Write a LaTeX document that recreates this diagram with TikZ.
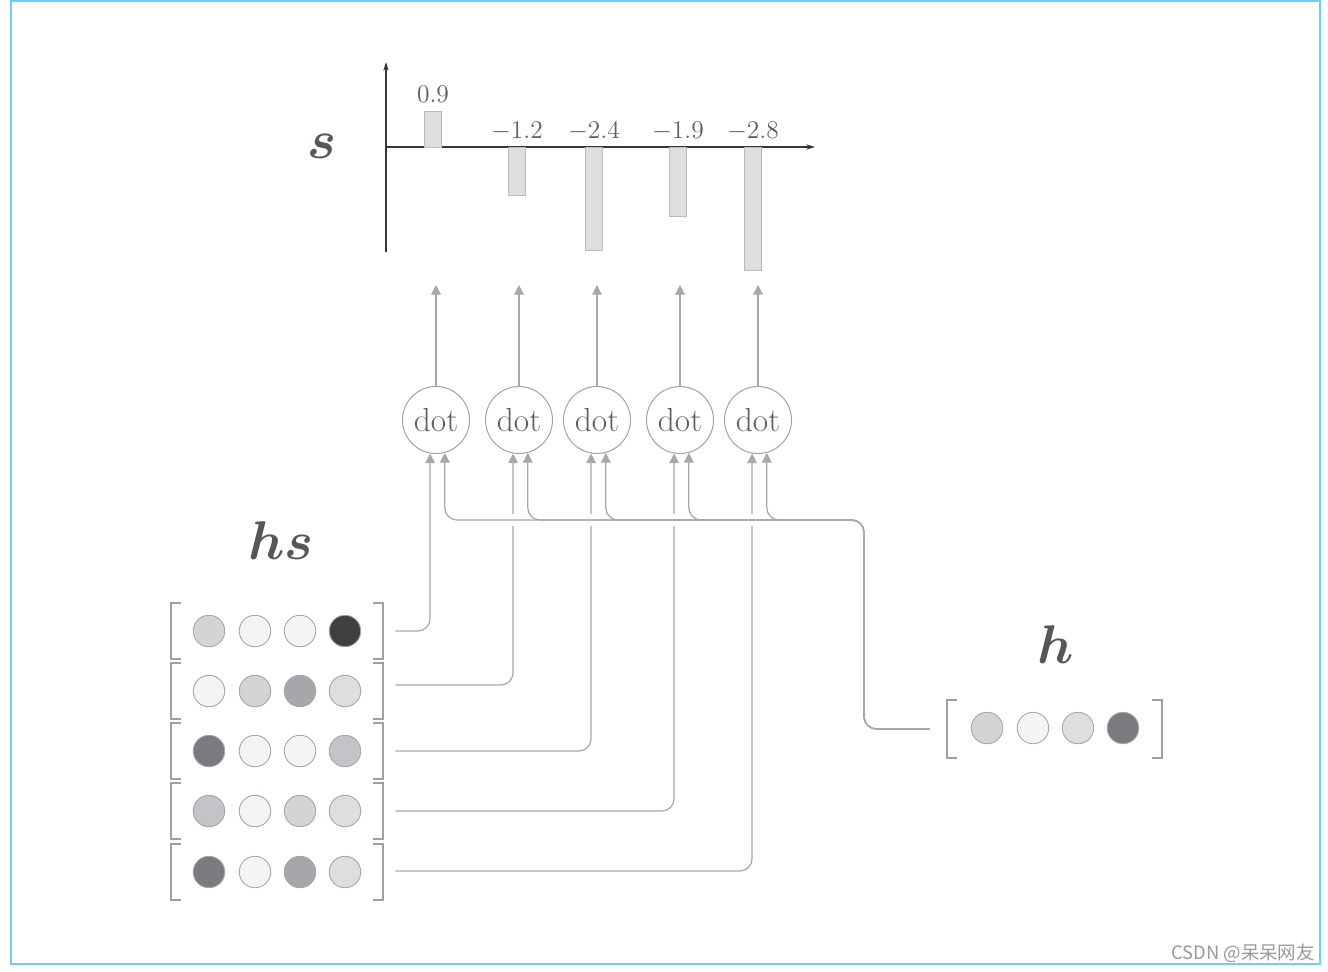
\RequirePackage{fix-cm}
\documentclass[tikz,border=0pt]{standalone}
\usepackage{amsmath,bm}
\usepackage{fontspec}
\newfontfamily\cjkfont{Noto Sans CJK SC}
\usetikzlibrary{arrows.meta}

\definecolor{frameblue}{RGB}{112,206,240}
\definecolor{linkgray}{RGB}{168,168,170}
\definecolor{circgray}{RGB}{165,165,167}
\definecolor{brkgray}{RGB}{160,160,162}
\definecolor{bargray}{RGB}{185,187,188}
\definecolor{axisgray}{RGB}{55,55,57}
\definecolor{txtgray}{RGB}{95,95,97}
\definecolor{labgray}{RGB}{85,88,89}
\definecolor{gA}{RGB}{243,244,245}
\definecolor{gB}{RGB}{220,222,223}
\definecolor{gC}{RGB}{210,212,213}
\definecolor{gD}{RGB}{195,196,199}
\definecolor{gE}{RGB}{166,167,170}
\definecolor{gF}{RGB}{122,123,126}
\definecolor{gG}{RGB}{63,64,66}

\begin{document}
\begin{tikzpicture}[x=0.02cm,y=-0.02cm,
    link/.style={draw=linkgray,line width=0.7pt,rounded corners=7pt},
    tip/.style={-{Triangle[width=5.5pt,length=5.5pt]}},
    dotnode/.style={circle,draw=circgray,line width=0.6pt,minimum size=1.34cm,inner sep=0pt,
        text=txtgray,font=\fontsize{19}{21}\selectfont},
    unit/.style={circle,draw=circgray,line width=0.5pt,minimum size=0.63cm,inner sep=0pt},
    vecbox/.style={minimum width=4.24cm,minimum height=1.1cm,inner sep=0pt},
    brk/.style={draw=brkgray,line width=1.1pt},
    bar/.style={fill=gB,draw=bargray,line width=0.5pt},
    axis/.style={draw=axisgray,line width=0.6pt,-{Stealth[length=5pt,width=3pt]}},
    val/.style={text=txtgray,font=\fontsize{14.5}{16}\selectfont},
    big/.style={text=labgray,font=\fontsize{31}{34}\selectfont}]
    \useasboundingbox (0,0) rectangle (1328,971);
    \draw[frameblue,line width=1.2pt] (11,1) rectangle (1320,964);

    % score chart
    \draw[axis] (386,252) -- (386,62);
    \draw[axis] (386,147) -- (815,147);
    \node[big] (slab) at (322,146) {$\bm{s}$};
    \foreach \i/\x/\t/\ly/\v in {1/433/111/94/0.9,2/517/195/131/-1.2,3/594/250/131/-2.4,
        4/678/216/131/-1.9,5/753/270/131/-2.8}{
        \draw[bar] (\x-8.5,147) rectangle (\x+8.5,\t);
        \node[val] (v\i) at (\x,\ly) {$\v$};
    }

    % dot products
    \foreach \i/\x in {1/436,2/519,3/597,4/680,5/758}{
        \node[dotnode] (d\i) at (\x,420) {dot};
        \coordinate (top\i) at (\x,285);
        \draw[link,tip] (d\i.north) -- (top\i);
    }

    % hs
    \node[big] (hslab) at (281,541) {$\bm{hs}$};
    \foreach \i/\y/\ly/\ca/\cb/\cc/\cd in {1/631/0/gC/gA/gA/gG,2/691/-6/gA/gC/gE/gB,
        3/751/0/gF/gA/gA/gD,4/811/0/gD/gA/gC/gB,5/872/-1/gF/gA/gE/gB}{
        \node[vecbox] (r\i) at (277,\y) {};
        \draw[brk] ([xshift=0.2cm]r\i.north west) -| (r\i.south west) -- ([xshift=0.2cm]r\i.south west);
        \draw[brk] ([xshift=-0.2cm]r\i.north east) -| (r\i.south east) -- ([xshift=-0.2cm]r\i.south east);
        \node[unit,fill=\ca] (r\i a) at (209,\y) {};
        \node[unit,fill=\cb] (r\i b) at (255,\y) {};
        \node[unit,fill=\cc] (r\i c) at (300,\y) {};
        \node[unit,fill=\cd] (r\i d) at (345,\y) {};
        \coordinate (o\i) at ([xshift=0.24cm,yshift=-\ly*0.02cm]r\i.east);
    }

    % h
    \node[big] (hlab) at (1056,645) {$\bm{h}$};
    \node[vecbox,minimum width=4.3cm,minimum height=1.14cm] (hv) at (1054.5,729) {};
    \draw[brk] ([xshift=0.2cm]hv.north west) -| (hv.south west) -- ([xshift=0.2cm]hv.south west);
    \draw[brk] ([xshift=-0.2cm]hv.north east) -| (hv.south east) -- ([xshift=-0.2cm]hv.south east);
    \node[unit,fill=gC] (ha) at (987,728) {};
    \node[unit,fill=gA] (hb) at (1033,728) {};
    \node[unit,fill=gB] (hc) at (1078,728) {};
    \node[unit,fill=gF] (hd) at (1123,728) {};
    \coordinate (hin) at ([xshift=-0.34cm]hv.west);
    \coordinate (hturn) at (864,520);

    % connectors
    \foreach \i in {1,...,5}
        \draw[link,tip] (o\i) -| (d\i.-100);
    \draw[white,line width=7pt] (hturn) -- (d1.-75 |- hturn);
    \foreach \i in {1,...,5}
        \draw[link,tip] (hin) -| (hturn) -| (d\i.-75);

    \node[text=gray!80,font=\cjkfont\fontsize{10.5}{12}\selectfont] (wm) at (1243,953) {CSDN @呆呆网友};
\end{tikzpicture}
\end{document}
